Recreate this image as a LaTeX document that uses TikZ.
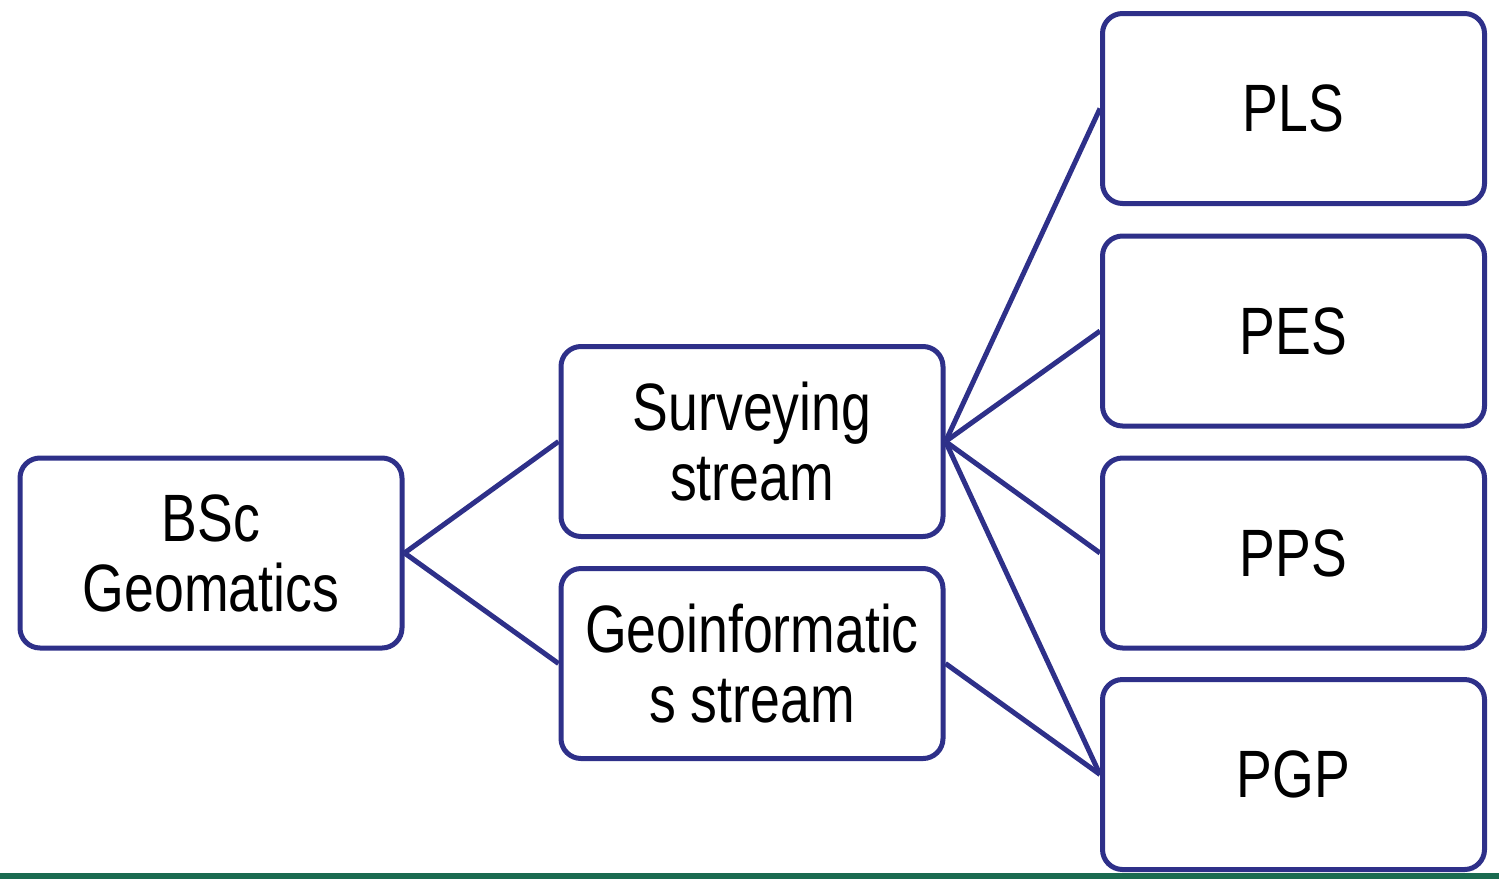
\documentclass[tikz,border=0pt]{standalone}
\usepackage{fontspec}
\setmainfont{Liberation Sans}[FakeStretch=0.8]
\definecolor{navy}{HTML}{2E3089}
\definecolor{bargreen}{HTML}{1A6B50}
\begin{document}
\begin{tikzpicture}[x=1pt,y=-1pt,
  box/.style={draw=navy,line width=5pt,rounded corners=20pt,minimum width=382pt,minimum height=190pt,inner sep=0pt,align=center,font=\fontsize{67}{70}\selectfont,fill=white},
  link/.style={draw=navy,line width=5pt}]
\useasboundingbox (0,0) rectangle (1499,879);
\node[box] (bsc)  at (211,553)    {BSc\\Geomatics};
\node[box] (surv) at (752,441.5)  {Surveying\\stream};
\node[box] (geo)  at (752,663.5)  {Geoinformatic\\s stream};
\node[box] (pls)  at (1293.5,108.5) {PLS};
\node[box] (pes)  at (1293.5,331)   {PES};
\node[box] (pps)  at (1293.5,553)   {PPS};
\node[box] (pgp)  at (1293.5,774.5) {PGP};
\draw[link] (bsc.east) -- (surv.west);
\draw[link] (bsc.east) -- (geo.west);
\draw[link] (surv.east) -- (pls.west);
\draw[link] (surv.east) -- (pes.west);
\draw[link] (surv.east) -- (pps.west);
\draw[link] (surv.east) -- (pgp.west);
\draw[link] (geo.east) -- (pgp.west);
\coordinate (barL) at (0,875.5);
\coordinate (barR) at (1499,875.5);
\draw[bargreen,line width=6pt] (barL) -- (barR);
\end{tikzpicture}
\end{document}
